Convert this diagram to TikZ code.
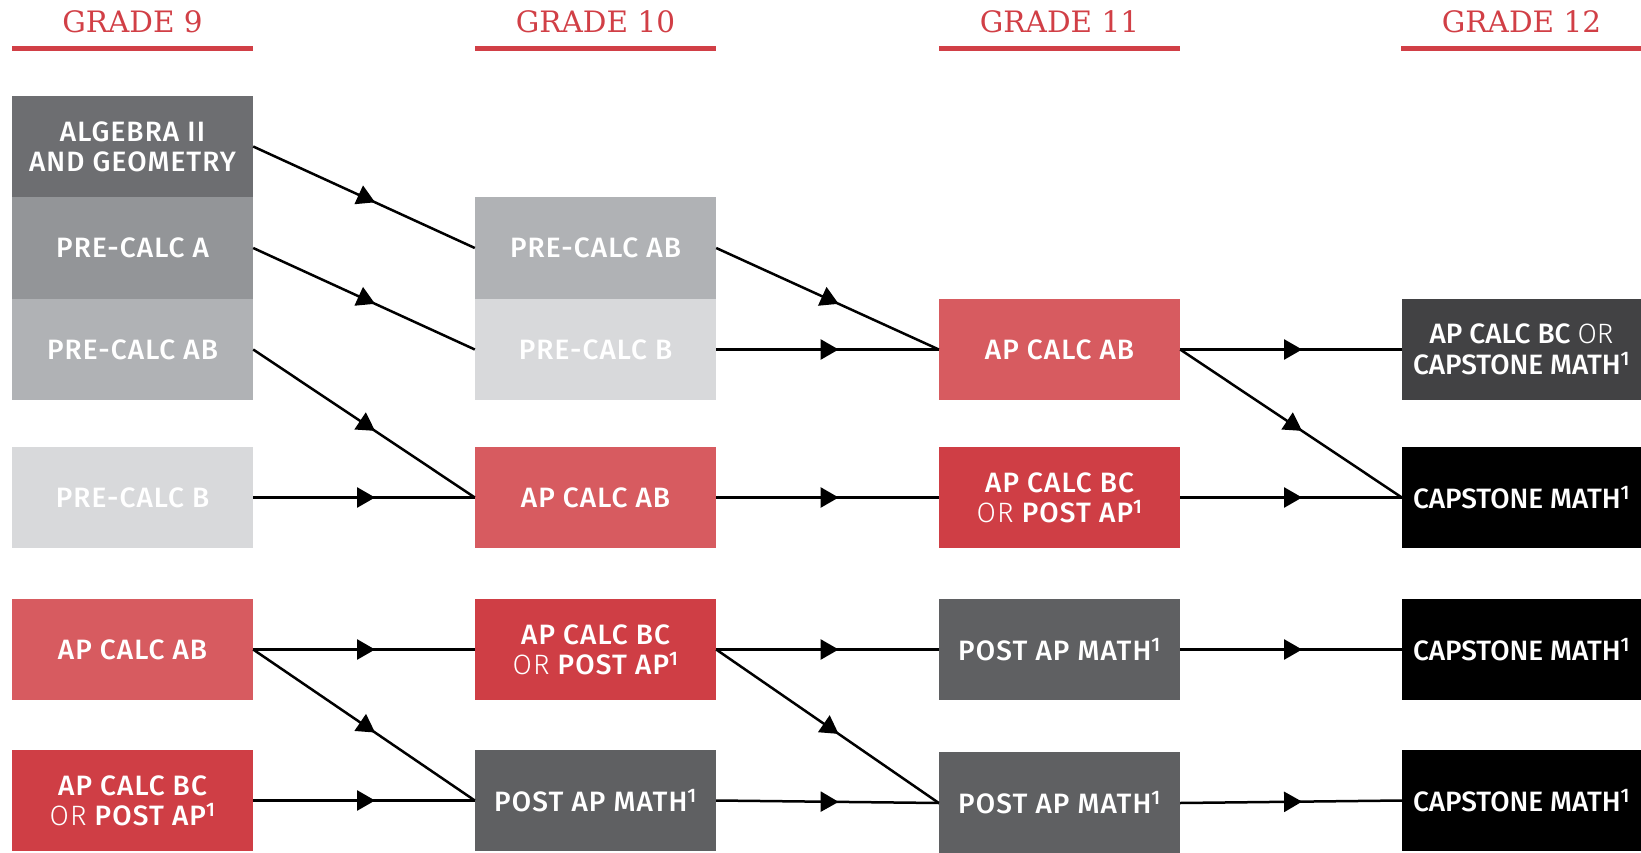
\documentclass[tikz,border=0pt]{standalone}
\usepackage{fontspec}
\usetikzlibrary{arrows.meta,decorations.markings}

\newfontfamily\boxfont{Fira Sans Medium}[LetterSpace=4]
\newfontfamily\boxtight{Fira Sans Medium}
\newfontfamily\lightfont{Fira Sans Light}[LetterSpace=4]
\newfontfamily\lighttight{Fira Sans Light}
\newfontfamily\titlefont{DejaVu Serif}

\definecolor{gradered}{HTML}{D13F46}
\definecolor{algebragray}{HTML}{6D6E71}
\definecolor{precalcagray}{HTML}{939598}
\definecolor{precalcabgray}{HTML}{B0B2B5}
\definecolor{precalcbgray}{HTML}{D8D9DB}
\definecolor{apabred}{HTML}{D75B60}
\definecolor{apbcred}{HTML}{CF3E45}
\definecolor{postapgray}{HTML}{5F6062}
\definecolor{capdark}{HTML}{424244}

\tikzset{
  course/.style={shape=rectangle, minimum width=241pt, minimum height=101.5pt,
    inner sep=0pt, text=white, align=center,
    font=\boxfont\fontsize{28}{30}\selectfont},
  lastcourse/.style={course, minimum width=239pt,
    font=\boxtight\fontsize{28}{31}\selectfont},
  grade/.style={anchor=base, text=gradered, font=\titlefont\fontsize{29.5}{30}\selectfont},
  flow/.style={line width=2.5pt, postaction={decorate},
    decoration={markings, mark=at position 0.55 with {\arrow{Triangle[length=18pt,width=20pt]}}}}
}

\begin{document}
\begin{tikzpicture}[x=1pt,y=-1pt]
    \useasboundingbox (0,0) rectangle (1641,853);
    % headings
    \foreach \g/\x in {9/132.5,10/595.5,11/1059.5,12/1521.5}{
        \node[grade] (g\g) at (\x,33) {GRADE \g};
        \fill[gradered] (\x-120.5,46) rectangle (\x+120.5,51);
    }
    % grade 9
    \node[course,fill=algebragray](alg9) at (132.5,146.5) {ALGEBRA II\\AND GEOMETRY};
    \node[course,fill=precalcagray](pca9) at (132.5,248) {PRE-CALC A};
    \node[course,fill=precalcabgray](pcab9) at (132.5,349.5) {PRE-CALC AB};
    \node[course,fill=precalcbgray](pcb9) at (132.5,497.5) {PRE-CALC B};
    \node[course,fill=apabred](ab9) at (132.5,649.5) {AP CALC AB};
    \node[course,fill=apbcred](bc9) at (132.5,800.5) {AP CALC BC\\{\lightfont OR} POST AP\textsuperscript{1}};
    % grade 10
    \node[course,fill=precalcabgray](pcab10) at (595.5,248) {PRE-CALC AB};
    \node[course,fill=precalcbgray](pcb10) at (595.5,349.5) {PRE-CALC B};
    \node[course,fill=apabred](ab10) at (595.5,497.5) {AP CALC AB};
    \node[course,fill=apbcred](bc10) at (595.5,649.5) {AP CALC BC\\{\lightfont OR} POST AP\textsuperscript{1}};
    \node[course,fill=postapgray](post10) at (595.5,800.5) {POST AP MATH\textsuperscript{1}};
    % grade 11
    \node[course,fill=apabred](ab11) at (1059.5,349.5) {AP CALC AB};
    \node[course,fill=apbcred](bc11) at (1059.5,497.5) {AP CALC BC\\{\lightfont OR} POST AP\textsuperscript{1}};
    \node[course,fill=postapgray](post11) at (1059.5,649.5) {POST AP MATH\textsuperscript{1}};
    \node[course,fill=postapgray](postb11) at (1059.5,803) {POST AP MATH\textsuperscript{1}};
    % grade 12
    \node[lastcourse,fill=capdark](bccap12) at (1521.5,349.5) {AP CALC BC {\lighttight OR}\\CAPSTONE MATH\textsuperscript{1}};
    \node[lastcourse,fill=black](cap12) at (1521.5,497.5) {CAPSTONE MATH\textsuperscript{1}};
    \node[lastcourse,fill=black](capb12) at (1521.5,649.5) {CAPSTONE MATH\textsuperscript{1}};
    \node[lastcourse,fill=black](capc12) at (1521.5,800.5) {CAPSTONE MATH\textsuperscript{1}};
    % grade 9 to 10
    \draw[flow] (alg9.east) -- (pcab10.west);
    \draw[flow] (pca9.east) -- (pcb10.west);
    \draw[flow] (pcab9.east) -- (ab10.west);
    \draw[flow] (pcb9.east) -- (ab10.west);
    \draw[flow] (ab9.east) -- (bc10.west);
    \draw[flow] (ab9.east) -- (post10.west);
    \draw[flow] (bc9.east) -- (post10.west);
    % grade 10 to 11
    \draw[flow] (pcab10.east) -- (ab11.west);
    \draw[flow] (pcb10.east) -- (ab11.west);
    \draw[flow] (ab10.east) -- (bc11.west);
    \draw[flow] (bc10.east) -- (post11.west);
    \draw[flow] (bc10.east) -- (postb11.west);
    \draw[flow] (post10.east) -- (postb11.west);
    % grade 11 to 12
    \draw[flow] (ab11.east) -- (bccap12.west);
    \draw[flow] (ab11.east) -- (cap12.west);
    \draw[flow] (bc11.east) -- (cap12.west);
    \draw[flow] (post11.east) -- (capb12.west);
    \draw[flow] (postb11.east) -- (capc12.west);
\end{tikzpicture}
\end{document}
